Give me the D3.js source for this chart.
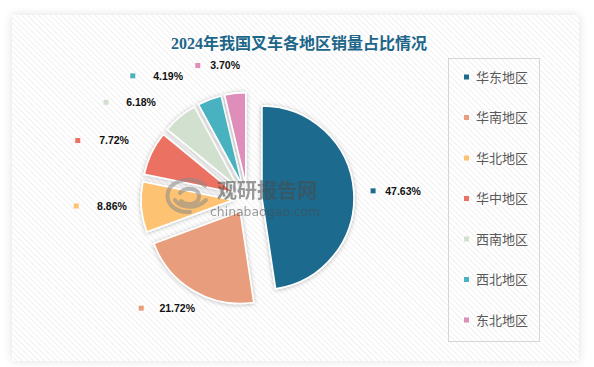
<!DOCTYPE html>
<html>
<head>
<meta charset="utf-8">
<script src="https://cdn.jsdelivr.net/npm/d3@7"></script>
<style>
  html, body { margin: 0; padding: 0; background: #ffffff; }
  svg { display: block; }
</style>
</head>
<body>
<svg id="chart" width="594" height="367"></svg>
<script>
// ---- data ----
const title = "2024年我国叉车各地区销量占比情况";
const regions = ["华东地区", "华南地区", "华北地区", "华中地区", "西南地区", "西北地区", "东北地区"];
const shares = [47.63, 21.72, 8.86, 7.72, 6.18, 4.19, 3.70];
const colors = ["#1c6b8e", "#e89d7c", "#fdc272", "#eb7262", "#d2e0cf", "#48b2c0", "#de8eb8"];

// ---- layout (not data) ----
const W = 594, H = 367;
const cx = 247.5, cy = 199, R = 92, explode = 14.5, labelR = 150;
const labelNudge = [[6, 3], [6, -20], [14, -4.5], [2, 6], [-11, 19], [-26, 17], [-5, 15.5]];
const markerGap = [12, 18, 17.7, 18.3, 17, 17.3, 9.3];

const svg = d3.select("#chart");
const defs = svg.append("defs");

const pat = defs.append("pattern")
  .attr("id", "hatch").attr("patternUnits", "userSpaceOnUse")
  .attr("width", 4).attr("height", 4)
  .attr("patternTransform", "rotate(-45)");
pat.append("rect").attr("width", 4).attr("height", 4).attr("fill", "#ffffff");
pat.append("line").attr("x1", 0).attr("y1", 0).attr("x2", 0).attr("y2", 4)
  .attr("stroke", "#ededed").attr("stroke-width", 1.6);

const cardShadow = defs.append("filter").attr("id", "cardShadow")
  .attr("x", "-10%").attr("y", "-10%").attr("width", "120%").attr("height", "120%");
cardShadow.append("feDropShadow").attr("dx", 0).attr("dy", 0)
  .attr("stdDeviation", 5).attr("flood-color", "#000").attr("flood-opacity", 0.12);

const sliceShadow = defs.append("filter").attr("id", "sliceShadow")
  .attr("x", "-20%").attr("y", "-20%").attr("width", "140%").attr("height", "140%");
sliceShadow.append("feDropShadow").attr("dx", 0).attr("dy", 0.5)
  .attr("stdDeviation", 2).attr("flood-color", "#000").attr("flood-opacity", 0.28);

// card
svg.append("rect").attr("x", 12).attr("y", 15).attr("width", 567).attr("height", 346)
  .attr("fill", "url(#hatch)").attr("filter", "url(#cardShadow)");

// title
svg.append("text").attr("x", 299).attr("y", 49)
  .attr("text-anchor", "middle")
  .attr("font-family", "'Liberation Serif', 'DejaVu Serif', 'Noto Sans CJK SC', serif")
  .attr("font-weight", "bold").attr("font-size", 16).attr("fill", "#1d6689")
  .text(title);

// pie
const pie = d3.pie().sort(null).value(d => d).startAngle(0).endAngle(2 * Math.PI);
const arcs = pie(shares);
const arc = d3.arc().innerRadius(0).outerRadius(R);
const labelArc = d3.arc().innerRadius(labelR).outerRadius(labelR);

const g = svg.append("g").attr("transform", `translate(${cx},${cy})`);
g.selectAll("path.slice").data(arcs).enter().append("path")
  .attr("class", "slice")
  .attr("transform", d => {
    const m = (d.startAngle + d.endAngle) / 2;
    return `translate(${Math.sin(m) * explode},${-Math.cos(m) * explode})`;
  })
  .attr("d", arc)
  .attr("fill", (d, i) => colors[i])
  .attr("stroke", "#ffffff").attr("stroke-width", 1.6)
  .attr("filter", "url(#sliceShadow)");

// watermark
const wm = svg.append("g").attr("opacity", 0.55);
wm.append("path")
  .attr("d", "M205,186 C196,176 172,178 168,192 C165,204 176,213 190,212 M180,193 C186,186 200,188 199,197 C198,205 186,206 181,201 M175,200 C180,208 196,210 206,200")
  .attr("fill", "none").attr("stroke", "#8a8a8a").attr("stroke-width", 4).attr("stroke-linecap", "round");
wm.append("text").attr("x", 267).attr("y", 198).attr("text-anchor", "middle")
  .attr("font-family", "'Noto Sans CJK SC', sans-serif").attr("font-weight", "bold")
  .attr("font-size", 20).attr("fill", "#4a4a4a").text("观研报告网");
wm.append("text").attr("x", 210).attr("y", 216)
  .attr("textLength", 110).attr("lengthAdjust", "spacingAndGlyphs")
  .attr("font-family", "'DejaVu Sans', sans-serif")
  .attr("font-size", 12).attr("fill", "#4a4a4a").text("chinabaogao.com");

// data labels
const lab = g.selectAll("g.lab").data(arcs).enter().append("g").attr("class", "lab")
  .attr("transform", (d, i) => {
    const c = labelArc.centroid(d);
    return `translate(${c[0] + labelNudge[i][0]},${c[1] + labelNudge[i][1]})`;
  });
lab.append("rect")
  .attr("x", (d, i) => -18 - markerGap[i] - 2.5).attr("y", -2.5)
  .attr("width", 5).attr("height", 5)
  .attr("fill", (d, i) => colors[i]);
lab.append("text")
  .attr("x", 0).attr("y", 0).attr("dy", "0.35em")
  .attr("text-anchor", "middle")
  .attr("font-family", "'Liberation Sans', Arial, sans-serif")
  .attr("font-weight", "bold").attr("font-size", 10.5).attr("fill", "#111")
  .text(d => d.data.toFixed(2) + "%");

// legend
svg.append("rect").attr("x", 448.5).attr("y", 58.5).attr("width", 91).attr("height", 283)
  .attr("fill", "none").attr("stroke", "#d6d6d6").attr("stroke-width", 1);
const y = d3.scalePoint().domain(regions).range([77, 320]);
const leg = svg.selectAll("g.leg").data(regions).enter().append("g").attr("class", "leg")
  .attr("transform", d => `translate(0,${y(d)})`);
leg.append("rect").attr("x", 464).attr("y", -2.5).attr("width", 5).attr("height", 5)
  .attr("fill", (d, i) => colors[i]);
leg.append("text").attr("x", 476).attr("y", 0).attr("dy", "0.36em")
  .attr("font-family", "'Noto Sans CJK SC', sans-serif")
  .attr("font-size", 13).attr("fill", "#595959")
  .text(d => d);
</script>
</body>
</html>
